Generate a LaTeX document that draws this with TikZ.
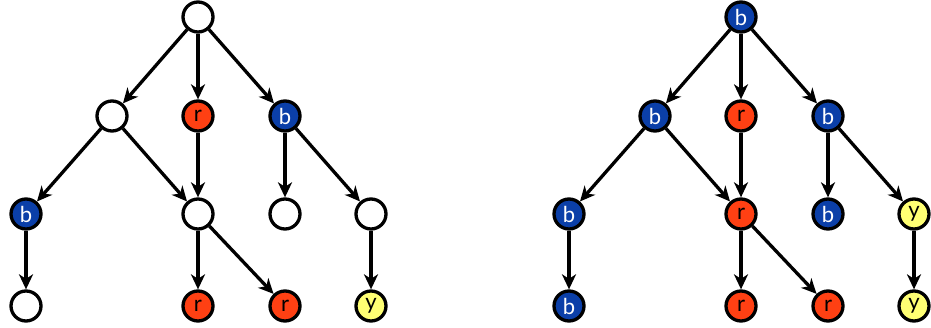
\documentclass[tikz,border=0pt]{standalone}
\usepackage{fontspec}
\setmainfont{Lato}
\usetikzlibrary{arrows.meta,positioning}
\definecolor{nred}{HTML}{FF4013}
\definecolor{nblue}{HTML}{0B3FA8}
\definecolor{nyellow}{HTML}{FFFF73}

\begin{document}
\begin{tikzpicture}[x=1pt, y=-1pt, line width=3.3pt, >={Stealth[length=15pt,width=14pt,inset=4.5pt]},
  every node/.style={circle, draw, fill=white, minimum size=30pt, inner sep=0pt, font=\fontsize{22}{22}\selectfont},
  rn/.style={fill=nred},
  bn/.style={fill=nblue, text=white},
  yn/.style={fill=nyellow}]
\useasboundingbox (0,0) rectangle (931,328);
% before
\node (a) at (198,17) {};
\node (b) at (112,116) {};
\node[rn] (c) at (198,116) {r};
\node[bn] (d) at (285,116) {b};
\node[bn] (e) at (26,214) {b};
\node (f) at (198,214) {};
\node (g) at (285,214) {};
\node (h) at (371,214) {};
\node (i) at (26,306) {};
\node[rn] (j) at (198,306) {r};
\node[rn] (k) at (285,306) {r};
\node[yn] (l) at (371,306) {y};

\draw[->] (a) -- (b);
\draw[->] (a) -- (c);
\draw[->] (a) -- (d);
\draw[->] (b) -- (e);
\draw[->] (b) -- (f);
\draw[->] (c) -- (f);
\draw[->] (d) -- (g);
\draw[->] (d) -- (h);
\draw[->] (e) -- (i);
\draw[->] (f) -- (j);
\draw[->] (f) -- (k);
\draw[->] (h) -- (l);

% after
\node[bn] (A) at (741,17) {b};
\node[bn] (B) at (655,116) {b};
\node[rn] (C) at (741,116) {r};
\node[bn] (D) at (828,116) {b};
\node[bn] (E) at (569,214) {b};
\node[rn] (F) at (741,214) {r};
\node[bn] (G) at (828,214) {b};
\node[yn] (H) at (914,214) {y};
\node[bn] (I) at (569,306) {b};
\node[rn] (J) at (741,306) {r};
\node[rn] (K) at (828,306) {r};
\node[yn] (L) at (914,306) {y};

\draw[->] (A) -- (B);
\draw[->] (A) -- (C);
\draw[->] (A) -- (D);
\draw[->] (B) -- (E);
\draw[->] (B) -- (F);
\draw[->] (C) -- (F);
\draw[->] (D) -- (G);
\draw[->] (D) -- (H);
\draw[->] (E) -- (I);
\draw[->] (F) -- (J);
\draw[->] (F) -- (K);
\draw[->] (H) -- (L);
\end{tikzpicture}
\end{document}
